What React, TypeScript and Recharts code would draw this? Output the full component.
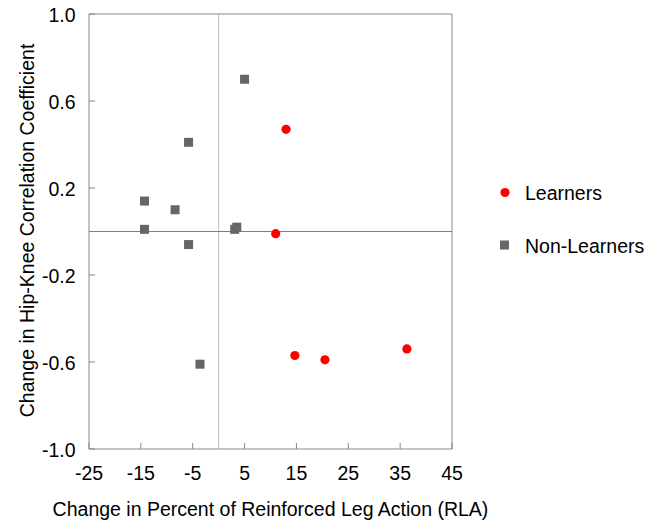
import React from 'react';
import {
  ScatterChart,
  Scatter,
  XAxis,
  YAxis,
  ReferenceLine,
} from 'recharts';

// Change in % RLA (x) vs change in hip-knee correlation coefficient (y)
const learnersX = [13.0, 11.0, 14.7, 20.5, 36.3];
const learnersY = [0.47, -0.01, -0.57, -0.59, -0.54];

const nonLearnersX = [5.0, -5.8, -14.3, -8.4, -14.3, -5.8, 3.1, 3.5, -3.6];
const nonLearnersY = [0.7, 0.41, 0.14, 0.1, 0.01, -0.06, 0.01, 0.02, -0.61];

const xTicks = [-25, -15, -5, 5, 15, 25, 35, 45];
const yTicks = [-1.0, -0.6, -0.2, 0.2, 0.6, 1.0];

const seriesNames = ['Learners', 'Non-Learners'];

const learners = learnersX.map((x, i) => ({ x, y: learnersY[i] }));
const nonLearners = nonLearnersX.map((x, i) => ({ x, y: nonLearnersY[i] }));

const FONT = '"Liberation Sans", Arial, sans-serif';
const FONT_SIZE = 19.5;
const AXIS = '#888888';
const TEXT = '#000000';
const RED = '#ff0000';
const GRAY = '#666666';
const TICK_MARGIN = 14;

const XTick = (props: any) => {
  const { x, y, payload } = props;
  const axisY = y - TICK_MARGIN;
  return (
    <g>
      <line x1={x} x2={x} y1={axisY} y2={axisY - 6} stroke={AXIS} strokeWidth={1} />
      <text x={x} y={y + 17} textAnchor="middle" fontFamily={FONT} fontSize={FONT_SIZE} fill={TEXT}>
        {payload.value}
      </text>
    </g>
  );
};

const YTick = (props: any) => {
  const { x, y, payload } = props;
  const axisX = x + TICK_MARGIN;
  return (
    <g>
      <line x1={axisX} x2={axisX + 6} y1={y} y2={y} stroke={AXIS} strokeWidth={1} />
      <text x={x + 0.5} y={y + 8} textAnchor="end" fontFamily={FONT} fontSize={FONT_SIZE} fill={TEXT}>
        {Number(payload.value).toFixed(1)}
      </text>
    </g>
  );
};

const XTitle = (props: any) => {
  const vb = props.viewBox;
  return (
    <text
      x={vb.x + vb.width / 2}
      y={vb.y + 67}
      textAnchor="middle"
      fontFamily={FONT}
      fontSize={FONT_SIZE}
      fill={TEXT}
    >
      Change in Percent of Reinforced Leg Action (RLA)
    </text>
  );
};

const YTitle = (props: any) => {
  const vb = props.viewBox;
  const cx = vb.x - 5;
  const cy = vb.y + vb.height / 2 - 1;
  return (
    <text
      x={cx}
      y={cy}
      transform={`rotate(-90 ${cx} ${cy})`}
      textAnchor="middle"
      fontFamily={FONT}
      fontSize={FONT_SIZE}
      fill={TEXT}
    >
      Change in Hip-Knee Correlation Coefficient
    </text>
  );
};

const Dot = (props: any) => (
  <circle cx={props.cx} cy={props.cy} r={4.6} fill={RED} />
);

const Square = (props: any) => (
  <rect x={props.cx - 4.5} y={props.cy - 4.5} width={9} height={9} fill={GRAY} />
);

const LegendBox = () => (
  <div
    style={{
      position: 'absolute',
      left: 496,
      top: 183,
      fontFamily: FONT,
      fontSize: FONT_SIZE,
      color: TEXT,
      lineHeight: '20px',
    }}
  >
    <div style={{ display: 'flex', alignItems: 'center', height: 20 }}>
      <svg width={29} height={20}>
        <circle cx={9} cy={9.5} r={4.6} fill={RED} />
      </svg>
      <span>{seriesNames[0]}</span>
    </div>
    <div style={{ display: 'flex', alignItems: 'center', height: 20, marginTop: 33 }}>
      <svg width={29} height={20}>
        <rect x={4} y={4.5} width={9} height={9} fill={GRAY} />
      </svg>
      <span>{seriesNames[1]}</span>
    </div>
  </div>
);

export default function App() {
  return (
    <div style={{ position: 'absolute', left: 0, top: 0, width: 655, height: 524, background: '#fff' }}>
      <ScatterChart
        width={655}
        height={524}
        margin={{ top: 14, right: 203, bottom: 35, left: 39 }}
      >
        <XAxis
          type="number"
          dataKey="x"
          domain={[-25, 45]}
          ticks={xTicks}
          interval={0}
          allowDataOverflow
          height={40}
          stroke={AXIS}
          tickLine={false}
          tickSize={0}
          tickMargin={TICK_MARGIN}
          tick={<XTick />}
          label={<XTitle />}
        />
        <YAxis
          type="number"
          dataKey="y"
          domain={[-1, 1]}
          ticks={yTicks}
          interval={0}
          allowDataOverflow
          width={50}
          stroke={AXIS}
          tickLine={false}
          tickSize={0}
          tickMargin={TICK_MARGIN}
          tick={<YTick />}
          label={<YTitle />}
        />
        {/* frame on the top and right sides */}
        <ReferenceLine y={1} stroke={AXIS} strokeWidth={1} ifOverflow="visible" />
        <ReferenceLine x={45} stroke={AXIS} strokeWidth={1} ifOverflow="visible" />
        {/* zero lines */}
        <ReferenceLine x={0} stroke="#c0c0c0" strokeWidth={1} />
        <ReferenceLine y={0} stroke="#808080" strokeWidth={1} />
        <Scatter
          name={seriesNames[0]}
          data={learners}
          fill={RED}
          shape={<Dot />}
          isAnimationActive={false}
        />
        <Scatter
          name={seriesNames[1]}
          data={nonLearners}
          fill={GRAY}
          shape={<Square />}
          isAnimationActive={false}
        />
      </ScatterChart>
      <LegendBox />
    </div>
  );
}
